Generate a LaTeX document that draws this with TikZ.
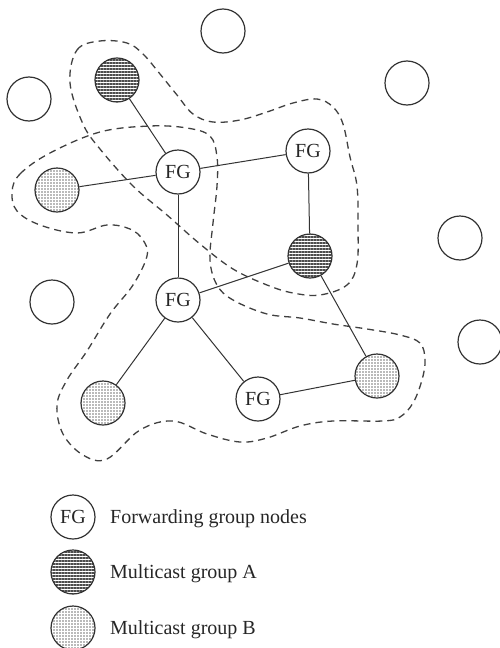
\documentclass[tikz,border=0pt]{standalone}
\usepackage{fontspec}
\setmainfont{Liberation Serif}
\usetikzlibrary{patterns.meta}
\begin{document}
\begin{tikzpicture}[x=1pt,y=-1pt,
  nd/.style={circle,draw=black!80,line width=1.2pt,minimum size=44pt,inner sep=0pt,font=\fontsize{20}{24}\selectfont,text=black!85},
  grpA/.style={nd,pattern={Lines[angle=0,distance=3pt,line width=1.4pt]},pattern color=black!70},
  grpB/.style={nd,pattern={Dots[distance=3pt,radius=0.8pt]},pattern color=black!55},
  link/.style={draw=black!80,line width=1pt},
  region/.style={draw=black!75,line width=1.3pt,dash pattern=on 7pt off 5pt},
  lbl/.style={anchor=base west,inner sep=0pt,font=\fontsize{20}{24}\selectfont,text=black!85}]
\useasboundingbox (0,0) rectangle (500,648);
% dashed regions
\draw[region] plot[smooth cycle,tension=0.6] coordinates {
 (70,83) (77,50) (100,41) (127,43) (143,54) (160,74) (177,95) (193,114) (213,122)
 (240,120) (267,112) (293,103) (317,99) (333,107) (343,124) (350,157) (357,186)
 (358,227) (357,264) (347,285) (320,295) (293,293) (267,285) (233,269) (200,244)
 (167,215) (133,186) (100,149) (83,124)};
\draw[region] plot[smooth cycle,tension=0.6] coordinates {
 (12,192) (20,174) (50,153) (100,132) (150,126) (187,128) (210,136) (217,157)
 (217,186) (213,223) (210,260) (217,285) (233,300) (267,314) (300,318) (333,324)
 (367,329) (400,335) (420,343) (425,360) (422,380) (413,403) (400,417) (383,421)
 (333,421) (300,426) (267,438) (240,442) (207,434) (173,421) (140,430) (107,459)
 (83,455) (63,434) (57,405) (67,380) (87,351) (110,314) (133,285) (147,256)
 (143,240) (130,229) (107,225) (77,233) (40,225) (17,211)};
% plain nodes
\node[nd] (e1) at (223,31) {};
\node[nd] (e2) at (29,99) {};
\node[nd] (e3) at (407,83) {};
\node[nd] (e4) at (460,238) {};
\node[nd] (e5) at (52,302) {};
\node[nd] (e6) at (480,342) {};
% group A
\node[grpA] (a1) at (117,80) {};
\node[grpA] (a2) at (310,256) {};
% group B
\node[grpB] (b1) at (57,190) {};
\node[grpB] (b2) at (103,403) {};
\node[grpB] (b3) at (377,376) {};
% forwarding group
\node[nd] (f1) at (178,172) {FG};
\node[nd] (f2) at (308,151) {FG};
\node[nd] (f3) at (178,300) {FG};
\node[nd] (f4) at (258,399) {FG};
% links
\draw[link] (a1) -- (f1);
\draw[link] (b1) -- (f1);
\draw[link] (f1) -- (f2);
\draw[link] (f1) -- (f3);
\draw[link] (f2) -- (a2);
\draw[link] (f3) -- (a2);
\draw[link] (f3) -- (b2);
\draw[link] (f3) -- (f4);
\draw[link] (f4) -- (b3);
\draw[link] (a2) -- (b3);
% legend
\node[nd] (lf) at (73,517) {FG};
\node[grpA] (la) at (73,572) {};
\node[grpB] (lb) at (73,628) {};
\node[lbl] (tf) at (110,523) {Forwarding group nodes};
\node[lbl] (ta) at (110,578) {Multicast group A};
\node[lbl] (tb) at (110,634) {Multicast group B};
\end{tikzpicture}
\end{document}
